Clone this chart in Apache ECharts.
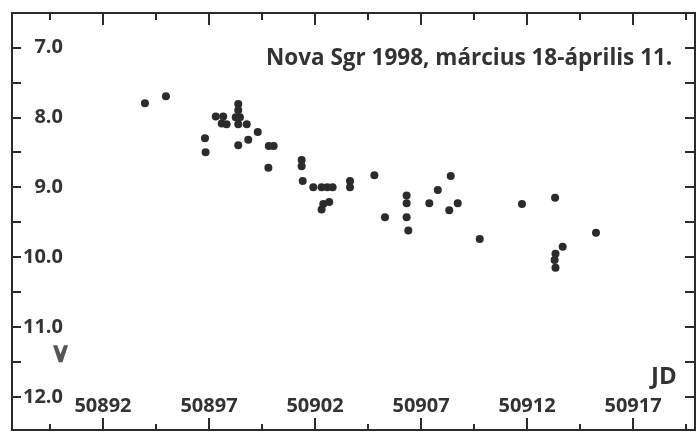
<!DOCTYPE html>
<html>
<head>
<meta charset="utf-8">
<script src="https://cdn.jsdelivr.net/npm/echarts@6/dist/echarts.min.js"></script>
<style>
  html, body { margin: 0; padding: 0; background: #fff; }
  #chart { width: 696px; height: 434px; }
</style>
</head>
<body>
<div id="chart"></div>
<script>
// Nova Sgr 1998 fénygörbe (JD - magnitúdó)
const jd = [
  50893.98, 50894.97, 50896.81, 50896.84, 50897.32, 50897.67, 50897.60, 50897.83,
  50898.38, 50898.38, 50898.26, 50898.46, 50898.38, 50898.78, 50899.30, 50898.85,
  50898.38, 50899.82, 50900.05, 50899.80, 50901.37, 50901.37, 50901.42, 50901.92,
  50902.31, 50902.58, 50902.83, 50902.67, 50902.39, 50902.31, 50903.65, 50903.65,
  50904.80, 50905.30, 50906.32, 50906.32, 50906.32, 50906.40, 50907.39, 50907.79,
  50908.40, 50908.33, 50908.73, 50909.77, 50911.76, 50913.32, 50913.68, 50913.34,
  50913.30, 50913.34, 50915.25
]
const mag = [
  7.80, 7.70, 8.30, 8.50, 7.99, 7.99, 8.09, 8.10,
  7.81, 7.90, 8.00, 8.00, 8.10, 8.10, 8.21, 8.32,
  8.40, 8.41, 8.41, 8.72, 8.61, 8.70, 8.91, 9.00,
  9.00, 9.00, 9.00, 9.21, 9.24, 9.32, 8.91, 9.00,
  8.83, 9.43, 9.12, 9.23, 9.43, 9.62, 9.23, 9.04,
  8.84, 9.33, 9.23, 9.74, 9.24, 9.15, 9.85, 9.95,
  10.04, 10.15, 9.65
]
// halványabb mint (felső határ)
const limJd = [50890.0]
const limMag = [11.38]

const xLabelTicks = [50892, 50897, 50902, 50907, 50912, 50917]
const xMinorTicks = [50889.5, 50894.5, 50899.5, 50904.5, 50909.5, 50914.5, 50919.5]
const yLabelTicks = [7, 8, 9, 10, 11, 12]
const yAllTicks = [7, 7.5, 8, 8.5, 9, 9.5, 10, 10.5, 11, 11.5, 12]

const xMin = 50887.71, xMax = 50919.92
const yMin = 6.51, yMax = 12.47

const ink = '#2b2b2b'
const font = 'Open Sans'

const points = jd.map((v, i) => [v, mag[i]])
const limits = limJd.map((v, i) => [v, limMag[i]])

const xBase = {
  type: 'value', min: xMin, max: xMax,
  splitLine: { show: false },
  axisLine: { show: true, lineStyle: { color: ink, width: 2 } },
  axisLabel: { show: false },
}

const chart = echarts.init(document.getElementById('chart'))
chart.setOption({
  animation: false,
  backgroundColor: '#fff',
  title: {
    text: 'Nova Sgr 1998, március 18-április 11.',
    left: 261, top: 42,
    textStyle: { fontFamily: font, fontSize: 22.5, fontWeight: 'bold', color: '#333' }
  },
  graphic: [{
    type: 'text', left: 651, top: 365,
    style: { text: 'JD', fontFamily: font, fontSize: 24, fontWeight: 'bold', fill: '#333' }
  }],
  grid: { left: 12, right: 1, top: 13, bottom: 4, containLabel: false },
  xAxis: [
    {
      ...xBase, position: 'bottom',
      axisTick: { inside: true, length: 12, customValues: xLabelTicks, lineStyle: { color: ink, width: 2 } },
      axisLabel: {
        show: true, inside: true, margin: 14, customValues: xLabelTicks,
        fontFamily: font, fontSize: 20, fontWeight: 'bold', color: '#333',
        formatter: v => String(v)
      }
    },
    {
      ...xBase, position: 'bottom',
      axisTick: { inside: true, length: 6, customValues: xMinorTicks, lineStyle: { color: ink, width: 2 } }
    },
    {
      ...xBase, position: 'top',
      axisTick: { inside: true, length: 12, customValues: xLabelTicks, lineStyle: { color: ink, width: 2 } }
    },
    {
      ...xBase, position: 'top',
      axisTick: { inside: true, length: 7, customValues: xMinorTicks, lineStyle: { color: ink, width: 2 } }
    }
  ],
  yAxis: [
    {
      type: 'value', inverse: true, min: yMin, max: yMax, position: 'left',
      splitLine: { show: false },
      axisLine: { show: true, lineStyle: { color: ink, width: 2 } },
      axisTick: { inside: true, length: 9, customValues: yAllTicks, lineStyle: { color: ink, width: 2 } },
      axisLabel: {
        inside: true, margin: 51, align: 'right', customValues: yLabelTicks,
        fontFamily: font, fontSize: 20, fontWeight: 'bold', color: '#333',
        formatter: v => v.toFixed(1)
      }
    },
    {
      type: 'value', inverse: true, min: yMin, max: yMax, position: 'right',
      splitLine: { show: false },
      axisLine: { show: true, lineStyle: { color: ink, width: 2 } },
      axisTick: { inside: true, length: 10, customValues: yAllTicks, lineStyle: { color: ink, width: 2 } },
      axisLabel: { show: false }
    }
  ],
  series: [
    {
      type: 'scatter', data: points, symbol: 'circle', symbolSize: 8,
      itemStyle: { color: ink, opacity: 1 }
    },
    {
      type: 'scatter', data: limits,
      symbol: 'path://M0,0 L4.5,0 L8,9 L11.5,0 L16,0 L10,17 L6,17 Z',
      symbolSize: [16, 17], symbolKeepAspect: true,
      itemStyle: { color: ink }
    }
  ]
})
</script>
</body>
</html>
